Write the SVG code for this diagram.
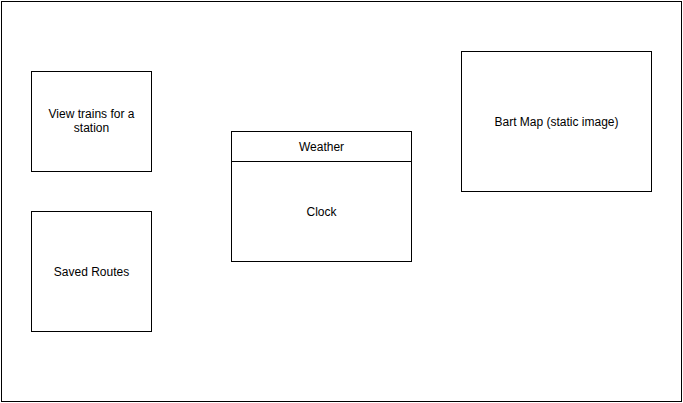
<svg xmlns="http://www.w3.org/2000/svg" width="683" height="403" viewBox="0 0 683 403">
<style>
.box{fill:#fff;stroke:#000;stroke-width:1}
.t{font-family:"Liberation Sans",Arial,sans-serif;font-size:12px;fill:#000;text-anchor:middle}
</style>
<rect width="683" height="403" fill="#fff"/>
<g id="frame"><rect class="box" x="1.5" y="1.5" width="680" height="400"/></g>
<g id="view-trains">
<rect class="box" x="31.5" y="71.5" width="120" height="100"/>
<text class="t" x="91.5" y="118">View trains for a</text>
<text class="t" x="91.5" y="132">station</text>
</g>
<g id="saved-routes">
<rect class="box" x="31.5" y="211.5" width="120" height="120"/>
<text class="t" x="91.5" y="276">Saved Routes</text>
</g>
<g id="weather-clock">
<rect class="box" x="231.5" y="131.5" width="180" height="130"/>
<line x1="231.5" y1="161.5" x2="411.5" y2="161.5" stroke="#000"/>
<text class="t" x="321.5" y="151">Weather</text>
<text class="t" x="321.5" y="216">Clock</text>
</g>
<g id="bart-map">
<rect class="box" x="461.5" y="51.5" width="190" height="140"/>
<text class="t" x="556.5" y="126">Bart Map (static image)</text>
</g>
<g id="connectors"></g>
</svg>
